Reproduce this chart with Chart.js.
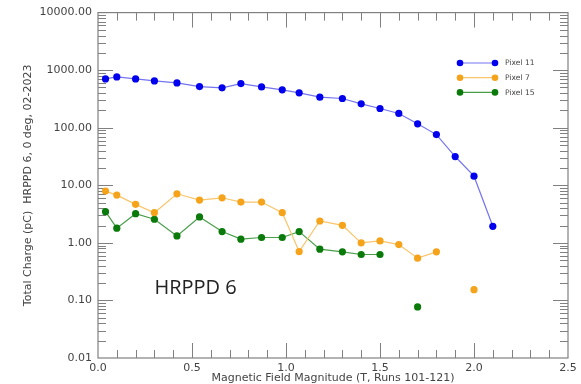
<!DOCTYPE html>
<html>
<head>
<meta charset="utf-8">
<script src="https://cdn.jsdelivr.net/npm/chart.js@4/dist/chart.umd.min.js"></script>
<style>
  html, body { margin: 0; padding: 0; background: #fff; }
</style>
</head>
<body>
<canvas id="chart" width="581" height="384"></canvas>
<script>
// Field values for runs 101-121 (T)
const fieldT = [0.04, 0.1, 0.2, 0.3, 0.42, 0.54, 0.66, 0.76, 0.87, 0.98, 1.07,
  1.18, 1.3, 1.4, 1.5, 1.6, 1.7, 1.8, 1.9, 2.0, 2.1];

// Total charge (pC) per pixel, null = no measurement
const pixel11 = [705, 763, 705, 651, 601, 519, 493, 584, 512, 455, 404,
  339, 322, 260, 216, 177, 117, 76, 31.6, 14.4, 1.94];
const pixel7 = [7.93, 6.76, 4.67, 3.34, 7.12, 5.54, 6.07, 5.12, 5.12, 3.34, 0.707,
  2.40, 2.02, 1.00, 1.08, 0.935, 0.543, 0.699, null, 0.154, null];
const pixel15 = [3.48, 1.80, 3.21, 2.57, 1.32, 2.82, 1.57, 1.16, 1.24, 1.24, 1.57,
  0.778, 0.70, 0.628, 0.628, null, 0.077, null, null, null, null];

// Axis ticks
const yDecades = [0.01, 0.1, 1, 10, 100, 1000, 10000];
const xMajor = [0, 0.5, 1.0, 1.5, 2.0, 2.5];

const toPoints = (vals) => fieldT.map((t, i) => ({ x: t, y: vals[i] }));

const axisFont = { family: "DejaVu Sans", size: 11 };
const titleFont = { family: "DejaVu Sans", size: 11, lineHeight: 1 };
const textColor = "#444";

// Inward ticks on all four sides plus the frame
const frameTicks = {
  id: "frameTicks",
  beforeDatasetsDraw(chart) {
    const { ctx, chartArea: a, scales: { x, y } } = chart;
    ctx.save();
    ctx.strokeStyle = "#808080";
    ctx.lineWidth = 1.2;
    ctx.strokeRect(a.left, a.top, a.right - a.left, a.bottom - a.top);
    ctx.lineWidth = 1;
    ctx.beginPath();
    for (let i = 1; i < 25; i++) {
      const px = Math.round(x.getPixelForValue(i / 10)) + 0.5;
      const len = i % 5 === 0 ? 15 : 8;
      ctx.moveTo(px, a.top); ctx.lineTo(px, a.top + len);
      ctx.moveTo(px, a.bottom); ctx.lineTo(px, a.bottom - len);
    }
    for (let d = 0; d < yDecades.length - 1; d++) {
      for (let k = 1; k <= 9; k++) {
        if (k === 1 && d === 0) continue;
        const py = Math.round(y.getPixelForValue(k * yDecades[d])) + 0.5;
        const len = k === 1 ? 15 : 8;
        ctx.moveTo(a.left, py); ctx.lineTo(a.left + len, py);
        ctx.moveTo(a.right, py); ctx.lineTo(a.right - len, py);
      }
    }
    ctx.stroke();
    ctx.restore();
  },
  afterDraw(chart) {
    const { ctx, scales: { x, y } } = chart;
    ctx.save();
    // label inside the plot
    ctx.fillStyle = "#222";
    ctx.font = "20px 'Open Sans'";
    ctx.textBaseline = "middle";
    ctx.fillText("HRPPD 6", x.getPixelForValue(0.3), y.getPixelForValue(0.16));

    // legend: line with a dot on each end
    chart.data.datasets.forEach((ds, i) => {
      const ly = 63 + i * 14.7;
      ctx.strokeStyle = ds.borderColor;
      ctx.lineWidth = 1.2;
      ctx.beginPath();
      ctx.moveTo(460, ly); ctx.lineTo(495, ly);
      ctx.stroke();
      ctx.fillStyle = ds.pointBackgroundColor;
      [460, 495].forEach((lx) => {
        ctx.beginPath();
        ctx.arc(lx, ly, 3.3, 0, Math.PI * 2);
        ctx.fill();
      });
      ctx.fillStyle = textColor;
      ctx.font = "7.6px 'DejaVu Sans'";
      ctx.fillText(ds.label, 505, ly + 0.5);
    });
    ctx.restore();
  },
};

const makeSet = (label, vals, line, dot) => ({
  label: label,
  data: toPoints(vals),
  borderColor: line,
  borderWidth: 1.2,
  pointBackgroundColor: dot,
  pointBorderWidth: 0,
  pointRadius: 3.6,
  spanGaps: false,
  tension: 0,
});

const chart = new Chart(document.getElementById("chart").getContext("2d"), {
  type: "line",
  data: {
    datasets: [
      makeSet("Pixel 11", pixel11, "#7474f0", "#0000ee"),
      makeSet("Pixel 7", pixel7, "#f8c56a", "#f5a31a"),
      makeSet("Pixel 15", pixel15, "#4a9e4a", "#0a7a0a"),
    ],
  },
  options: {
    responsive: false,
    animation: false,
    layout: { padding: { top: 11, right: 13, left: 0, bottom: 0 } },
    plugins: { legend: { display: false }, tooltip: { enabled: false } },
    scales: {
      x: {
        type: "linear",
        min: 0,
        max: 2.5,
        grid: { display: false, drawTicks: false },
        border: { display: false },
        afterBuildTicks: (s) => { s.ticks = xMajor.map((v) => ({ value: v })); },
        ticks: {
          padding: 4,
          color: textColor,
          font: axisFont,
          autoSkip: false,
          maxRotation: 0,
          callback: (v) => Number(v).toFixed(1),
        },
        title: {
          display: true,
          text: "Magnetic Field Magnitude (T, Runs 101-121)",
          color: textColor,
          font: titleFont,
          padding: { top: 0, bottom: 0 },
        },
        afterFit: (s) => { s.height = 26; },
      },
      y: {
        type: "logarithmic",
        min: 0.01,
        max: 10000,
        grid: { display: false, drawTicks: false },
        border: { display: false },
        afterBuildTicks: (s) => { s.ticks = yDecades.map((v) => ({ value: v })); },
        ticks: {
          padding: 6,
          color: textColor,
          font: axisFont,
          autoSkip: false,
          callback: (v) => Number(v).toFixed(2),
        },
        title: {
          display: true,
          text: "Total Charge (pC)  HRPPD 6, 0 deg, 02-2023",
          color: textColor,
          font: titleFont,
          padding: { top: 23, bottom: 0 },
        },
        afterFit: (s) => { s.width = 98; },
      },
    },
  },
  plugins: [frameTicks],
});
</script>
</body>
</html>
